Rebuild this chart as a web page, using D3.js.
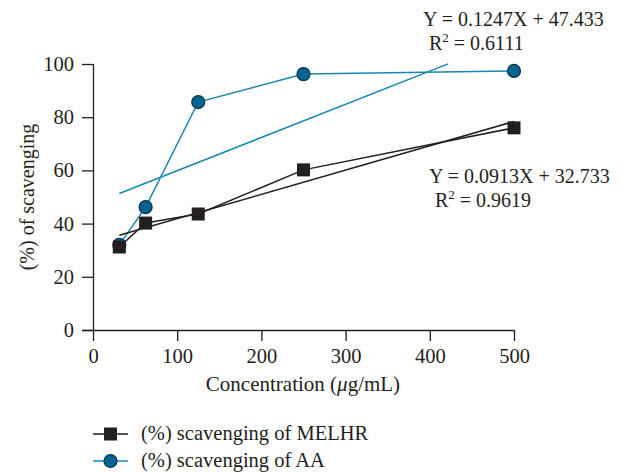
<!DOCTYPE html>
<html>
<head>
<meta charset="utf-8">
<script src="https://cdn.jsdelivr.net/npm/d3@7"></script>
<style>
  body { margin: 0; background: #fff; }
  text { font-family: "Liberation Serif", "DejaVu Serif", serif; fill: #231f20; }
</style>
</head>
<body>
<svg></svg>
<script>
// data
var concentrations = [31.25, 62.5, 125, 250, 500];
var melhr = [31.2, 40.2, 43.6, 60.2, 76.0];
var aa = [32.0, 46.2, 85.7, 96.2, 97.4];
var xTicks = [0, 100, 200, 300, 400, 500];
var yTicks = [0, 20, 40, 60, 80, 100];
// trend lines: slope, intercept, end x
var melhrFit = [0.0913, 32.733, 500];
var aaFit = [0.1247, 47.433, 421.8];

var width = 621, height = 472;
var black = "#231f20", blue = "#1a87b2", blueFill = "#00628f";

var svg = d3.select("svg")
    .attr("width", width)
    .attr("height", height)
    .attr("font-size", 20);

var x = d3.scaleLinear().domain([0, 500]).range([93, 514]);
var y = d3.scaleLinear().domain([0, 100]).range([330, 64]);

// axes
var xAxis = svg.append("g")
    .attr("transform", "translate(0,330)")
    .call(d3.axisBottom(x).tickValues(xTicks).tickSize(11).tickPadding(7));
var yAxis = svg.append("g")
    .attr("transform", "translate(93,0)")
    .call(d3.axisLeft(y).tickValues(yTicks).tickSize(11).tickPadding(8));

svg.selectAll(".domain").attr("stroke", black).attr("stroke-width", 1.3);
svg.selectAll(".tick line").attr("stroke", black).attr("stroke-width", 1.3);
svg.selectAll(".tick text")
    .attr("font-size", 20.5)
    .attr("font-family", "Liberation Serif")
    .attr("fill", black);
// fix the path ends so no outer ticks
xAxis.select(".domain").attr("d", "M82,0.5H514");
yAxis.select(".domain").attr("d", "M0.5,64V330");

svg.append("text")
    .attr("x", 303).attr("y", 391)
    .attr("text-anchor", "middle")
    .attr("font-size", 21)
    .html("Concentration (<tspan font-style='italic'>μ</tspan>g/mL)");

svg.append("text")
    .attr("transform", "translate(34,197) rotate(-90)")
    .attr("text-anchor", "middle")
    .text("(%) of scavenging");

var line = d3.line().x(d => x(d[0])).y(d => y(d[1]));

function fitPoints(f) {
  return [[concentrations[0], f[0] * concentrations[0] + f[1]], [f[2], f[0] * f[2] + f[1]]];
}

// AA series
svg.append("path")
    .attr("d", line(fitPoints(aaFit)))
    .attr("fill", "none").attr("stroke", blue).attr("stroke-width", 1.5);
svg.append("path")
    .attr("d", line(d3.zip(concentrations, aa)))
    .attr("fill", "none").attr("stroke", blue).attr("stroke-width", 1.5);
svg.append("g").selectAll("circle")
    .data(d3.zip(concentrations, aa))
    .join("circle")
    .attr("cx", d => x(d[0]))
    .attr("cy", d => y(d[1]))
    .attr("r", 6.5)
    .attr("fill", blueFill)
    .attr("stroke", "#0b3350")
    .attr("stroke-width", 1.2);

// MELHR series
svg.append("path")
    .attr("d", line(fitPoints(melhrFit)))
    .attr("fill", "none").attr("stroke", black).attr("stroke-width", 1.5);
svg.append("path")
    .attr("d", line(d3.zip(concentrations, melhr)))
    .attr("fill", "none").attr("stroke", black).attr("stroke-width", 1.5);
svg.append("g").selectAll("rect")
    .data(d3.zip(concentrations, melhr))
    .join("rect")
    .attr("x", d => x(d[0]) - 6.5)
    .attr("y", d => y(d[1]) - 6.5)
    .attr("width", 13)
    .attr("height", 13)
    .attr("fill", black);

// equations
function equation(xp, yp, eq, r2, dx) {
  svg.append("text").attr("x", xp).attr("y", yp).text(eq);
  var t = svg.append("text").attr("x", xp + dx).attr("y", yp + 24);
  t.append("tspan").text("R");
  t.append("tspan").attr("font-size", 13).attr("dy", -8).text("2");
  t.append("tspan").attr("dy", 8).text(" = " + r2);
}
equation(423, 26, "Y = 0.1247X + 47.433", "0.6111", 6);
equation(429, 183, "Y = 0.0913X + 32.733", "0.9619", 6);

// legend
var legend = [["(%) scavenging of MELHR", "square"], ["(%) scavenging of AA", "circle"]];
legend.forEach(function (l, i) {
  var ly = 434 + i * 27;
  var col = i == 0 ? black : blue;
  svg.append("line").attr("x1", 93).attr("x2", 128).attr("y1", ly).attr("y2", ly)
      .attr("stroke", col).attr("stroke-width", 1.5);
  if (l[1] == "square") {
    svg.append("rect").attr("x", 104).attr("y", ly - 6.5).attr("width", 13).attr("height", 13).attr("fill", black);
  } else {
    svg.append("circle").attr("cx", 110.5).attr("cy", ly).attr("r", 6.5)
        .attr("fill", blueFill).attr("stroke", "#0b3350").attr("stroke-width", 1.2);
  }
  svg.append("text").attr("x", 141).attr("y", ly + 6).attr("font-size", 20.5).text(l[0]);
});
</script>
</body>
</html>
